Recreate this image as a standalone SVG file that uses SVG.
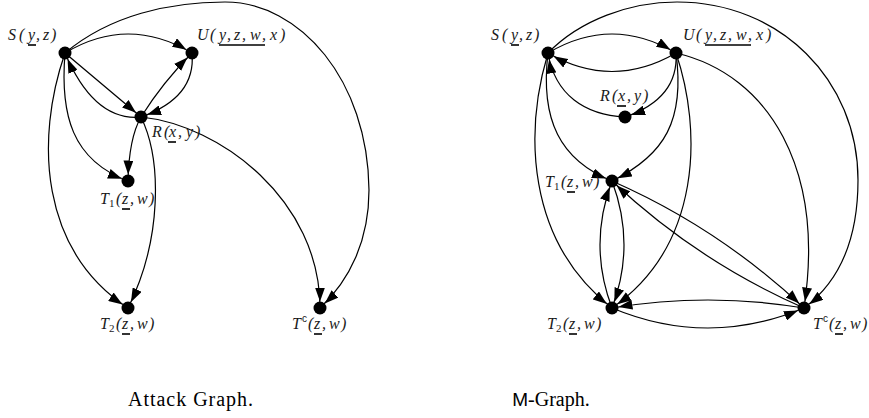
<svg xmlns="http://www.w3.org/2000/svg" width="869" height="418" viewBox="0 0 869 418">
<style>
.e{fill:none;stroke:#000;stroke-width:1.2;marker-end:url(#ah)}
.n{fill:#000}
.lb{font-family:"Liberation Serif",serif;font-style:italic;font-size:16px;fill:#1a1a1a}
.sub{font-style:normal;font-size:11px}
.sup{font-family:"Liberation Sans",sans-serif;font-style:normal;font-size:10px}
.ul{stroke:#000;stroke-width:1.6}
.cap{font-family:"Liberation Serif",serif;font-size:20px;fill:#000}
</style>
<defs>
<marker id="ah" viewBox="0 0 14 10" refX="20.5" refY="5" markerWidth="14" markerHeight="10" orient="auto" markerUnits="userSpaceOnUse"><path d="M0,0 L14,5 L0,10 z" fill="#000"/></marker>
</defs>
<g id="connectors">
<path class="e" d="M65,53 Q128,15 192,53"/>
<path class="e" d="M65,53 L141,117"/>
<path class="e" d="M141,117 C110,120 85,100 65,53"/>
<path class="e" d="M141,117 Q163,82 192,53"/>
<path class="e" d="M192,53 C195,85 175,105 141,117"/>
<path class="e" d="M141,117 Q129,138 128,181"/>
<path class="e" d="M65,53 C60,115 72,160 128,181"/>
<path class="e" d="M65,53 C35,140 40,250 128,308"/>
<path class="e" d="M141,117 C162,160 162,240 128,308"/>
<path class="e" d="M141,117 C220,125 320,200 320,308"/>
<path class="e" d="M65,53 C110,15 170,2 225,2 C300,2 368,80 369,190 C369,240 350,280 320,308"/>
<path class="e" d="M548,53 Q612,15 676,53"/>
<path class="e" d="M676,53 Q612,90 548,53"/>
<path class="e" d="M625,117 C585,115 555,95 548,53"/>
<path class="e" d="M676,53 C678,85 660,105 625,117"/>
<path class="e" d="M548,53 C540,120 560,160 612,181"/>
<path class="e" d="M676,53 C685,120 665,155 612,181"/>
<path class="e" d="M548,53 C525,130 525,240 612,308"/>
<path class="e" d="M676,53 C702,130 702,245 612,308"/>
<path class="e" d="M676,53 C770,75 825,170 804,308"/>
<path class="e" d="M548,53 C580,20 630,2 677,2 C780,2 858,80 858,180 C858,245 835,285 804,308"/>
<path class="e" d="M612,308 Q588,245 612,181"/>
<path class="e" d="M612,181 Q636,245 612,308"/>
<path class="e" d="M612,181 Q719,228 804,308"/>
<path class="e" d="M804,308 Q697,261 612,181"/>
<path class="e" d="M612,308 Q708,348 804,308"/>
<path class="e" d="M804,308 Q708,292 612,308"/>
</g>
<g id="a-S"><circle class="n" cx="65" cy="53" r="6.5"/><text class="lb" y="40" x="8 19 28 36 43 51">S(y,z)</text><line class="ul" x1="28" y1="45" x2="36" y2="45"/></g>
<g id="a-U"><circle class="n" cx="192" cy="53" r="6.5"/><text class="lb" y="40" x="197 210 219 227 234 242 250 262 270 280">U(y,z,w,x)</text><line class="ul" x1="219" y1="45" x2="265" y2="45"/></g>
<g id="a-R"><circle class="n" cx="141" cy="117" r="6.5"/><text class="lb" y="137" x="152 164 169 178 186 195">R(x,y)</text><line class="ul" x1="168" y1="142" x2="176" y2="142"/></g>
<g id="a-T1"><circle class="n" cx="128" cy="181" r="6.5"/><text class="lb" y="204"><tspan x="100">T</tspan><tspan class="sub" x="109" y="207">1</tspan><tspan x="116 122 130 137 149" y="204">(z,w)</tspan></text><line class="ul" x1="122" y1="209" x2="130" y2="209"/></g>
<g id="a-T2"><circle class="n" cx="128" cy="308" r="6.5"/><text class="lb" y="329"><tspan x="100">T</tspan><tspan class="sub" x="109" y="332">2</tspan><tspan x="116 122 130 137 149" y="329">(z,w)</tspan></text><line class="ul" x1="122" y1="334" x2="130" y2="334"/></g>
<g id="a-Tc"><circle class="n" cx="320" cy="308" r="6.5"/><text class="lb" y="329"><tspan x="292">T</tspan><tspan class="sup" x="302" y="322">c</tspan><tspan x="308 314 322 329 341" y="329">(z,w)</tspan></text><line class="ul" x1="314" y1="334" x2="322" y2="334"/></g>
<g id="m-S"><circle class="n" cx="548" cy="53" r="6.5"/><text class="lb" y="40" x="491 502 511 519 526 534">S(y,z)</text><line class="ul" x1="511" y1="45" x2="519" y2="45"/></g>
<g id="m-U"><circle class="n" cx="676" cy="53" r="6.5"/><text class="lb" y="40" x="683 696 705 713 720 728 736 748 756 766">U(y,z,w,x)</text><line class="ul" x1="705" y1="45" x2="751" y2="45"/></g>
<g id="m-R"><circle class="n" cx="625" cy="117" r="6.5"/><text class="lb" y="101" x="600 612 618 627 634 643">R(x,y)</text><line class="ul" x1="617" y1="106" x2="626" y2="106"/></g>
<g id="m-T1"><circle class="n" cx="612" cy="181" r="6.5"/><text class="lb" y="187"><tspan x="545">T</tspan><tspan class="sub" x="554" y="190">1</tspan><tspan x="561 567 575 582 594" y="187">(z,w)</tspan></text><line class="ul" x1="567" y1="192" x2="575" y2="192"/></g>
<g id="m-T2"><circle class="n" cx="612" cy="308" r="6.5"/><text class="lb" y="329"><tspan x="547">T</tspan><tspan class="sub" x="556" y="332">2</tspan><tspan x="563 569 577 584 596" y="329">(z,w)</tspan></text><line class="ul" x1="569" y1="334" x2="577" y2="334"/></g>
<g id="m-Tc"><circle class="n" cx="804" cy="308" r="6.5"/><text class="lb" y="329"><tspan x="813">T</tspan><tspan class="sup" x="823" y="322">c</tspan><tspan x="829 835 843 850 862" y="329">(z,w)</tspan></text><line class="ul" x1="835" y1="334" x2="843" y2="334"/></g>
<g id="captions">
<text class="cap" x="128" y="406" textLength="125">Attack Graph.</text>
<text class="cap" x="551" y="406" text-anchor="middle"><tspan font-family="Liberation Sans, sans-serif" font-size="19">M</tspan>-Graph.</text>
</g>
</svg>
